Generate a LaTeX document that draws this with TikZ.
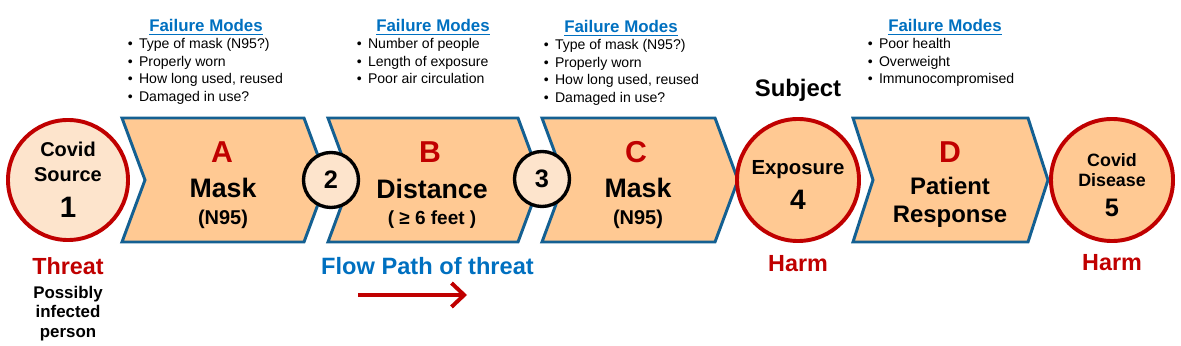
\documentclass[tikz,border=0pt]{standalone}
\usepackage{fontspec}
\setmainfont{Liberation Sans}
\usetikzlibrary{arrows.meta}
\definecolor{threatred}{RGB}{192,0,0}
\definecolor{flowblue}{RGB}{0,112,192}
\definecolor{chevblue}{RGB}{20,96,146}
\definecolor{chevfill}{RGB}{255,201,147}
\definecolor{lightfill}{RGB}{253,228,204}
\newcommand{\fsz}[1]{\fontsize{#1}{#1}\selectfont}

\begin{document}
\begin{tikzpicture}[x=0.025cm, y=-0.025cm,
  chev/.style={fill=chevfill, draw=chevblue, line width=2.1pt, line join=miter},
  bigdisc/.style={circle, draw=threatred, line width=2.8pt, minimum size=3.05cm, inner sep=0pt},
  smalldisc/.style={circle, draw=black, line width=2.4pt, fill=lightfill, minimum size=1.375cm, inner sep=0pt, font=\bfseries\fsz{18}},
  lbl/.style={anchor=base, inner sep=0pt, font=\bfseries\fsz{#1}},
  letter/.style={anchor=base, inner sep=0pt, font=\bfseries\fsz{21.5}, text=threatred},
  modehead/.style={anchor=base, inner sep=0pt, font=\bfseries\fsz{12}, text=flowblue},
  modelist/.style={anchor=north west, inner sep=0pt, align=left, font=\fontsize{10}{12.4}\selectfont},
  redlbl/.style={anchor=base, inner sep=0pt, font=\bfseries\fsz{16.6}, text=threatred},
  flowarr/.style={threatred, line width=2.8pt, -{Straight Barb[length=9pt, width=17pt]}}]
  \useasboundingbox (0,0) rectangle (1181,346);

  % barriers A-D
  \foreach \l/\r/\d in {122/304/23, 328/518/23, 542/715/23, 853/1028/20}
    \draw[chev] (\l,118) -- (\r,118) -- (\r+\d,180) -- (\r,242) -- (\l,242) -- (\l+\d,180) -- cycle;

  % source, exposure, disease
  \node[bigdisc, fill=lightfill, minimum size=3cm] (src) at (68,180) {};
  \node[bigdisc, fill=chevfill] (expo) at (798,180) {};
  \node[bigdisc, fill=chevfill] (dis) at (1112,180) {};
  \node[smalldisc] (n2) at (331,180) {2};
  \node[smalldisc] (n3) at (542,179) {3};

  % texts in the circles
  \node[lbl=14.2] (srcA) at (68,157) {Covid};
  \node[lbl=14.2] (srcB) at (68,182) {Source};
  \node[lbl=21] (srcN) at (68,218) {1};
  \node[lbl=14.5] (expoA) at (798,175) {Exposure};
  \node[lbl=20] (expoN) at (798,210) {4};
  \node[lbl=12.7] (disA) at (1112,167) {Covid};
  \node[lbl=12.7] (disB) at (1112,187) {Disease};
  \node[lbl=18] (disN) at (1112,217) {5};

  % texts in the barriers
  \node[letter] (aL) at (222,163) {A};
  \node[lbl=19] (aT) at (223,198) {Mask};
  \node[lbl=14.2] (aS) at (223,225) {(N95)};
  \node[letter] (bL) at (430,163) {B};
  \node[lbl=19] (bT) at (432,199) {Distance};
  \node[lbl=13.5] (bS) at (432,225) {( ≥ 6 feet )};
  \node[letter] (cL) at (636,163) {C};
  \node[lbl=19] (cT) at (638,198) {Mask};
  \node[lbl=14.2] (cS) at (638,225) {(N95)};
  \node[letter] (dL) at (950,163) {D};
  \node[lbl=17] (dT) at (950,195) {Patient};
  \node[lbl=17] (dS) at (950,223) {Response};

  % failure modes
  \node[modehead] (aHead) at (206,32) {\underline{Failure Modes}};
  \node[modelist] (aList) at (127.5,38.5) {\textbullet\hspace{4.5pt}Type of mask (N95?)\\
    \textbullet\hspace{4.5pt}Properly worn\\
    \textbullet\hspace{4.5pt}How long used, reused\\
    \textbullet\hspace{4.5pt}Damaged in use?};
  \node[modehead] (bHead) at (433,32) {\underline{Failure Modes}};
  \node[modelist] (bList) at (356.5,38.5) {\textbullet\hspace{4.5pt}Number of people\\
    \textbullet\hspace{4.5pt}Length of exposure\\
    \textbullet\hspace{4.5pt}Poor air circulation};
  \node[modehead] (cHead) at (621,33) {\underline{Failure Modes}};
  \node[modelist] (cList) at (543.5,39.5) {\textbullet\hspace{4.5pt}Type of mask (N95?)\\
    \textbullet\hspace{4.5pt}Properly worn\\
    \textbullet\hspace{4.5pt}How long used, reused\\
    \textbullet\hspace{4.5pt}Damaged in use?};
  \node[modehead] (dHead) at (945,32) {\underline{Failure Modes}};
  \node[modelist] (dList) at (867.5,38.5) {\textbullet\hspace{4.5pt}Poor health\\
    \textbullet\hspace{4.5pt}Overweight\\
    \textbullet\hspace{4.5pt}Immunocompromised};

  % labels below and above
  \node[lbl=17] (subj) at (798,97) {Subject};
  \node[redlbl] (threat) at (68,275) {Threat};
  \node[anchor=north, inner sep=0pt, align=center, font=\bfseries\fontsize{12}{14.2}\selectfont] (person) at (68,285.5) {Possibly\\infected\\person};
  \node[redlbl] (harmA) at (798,272) {Harm};
  \node[redlbl] (harmB) at (1112,271) {Harm};
  \node[lbl=16.8, text=flowblue] (flow) at (427.5,275) {Flow Path of threat};
  \coordinate (flowS) at (358,295);
  \coordinate (flowE) at (467,295);
  \draw[flowarr] (flowS) -- (flowE);
\end{tikzpicture}
\end{document}
